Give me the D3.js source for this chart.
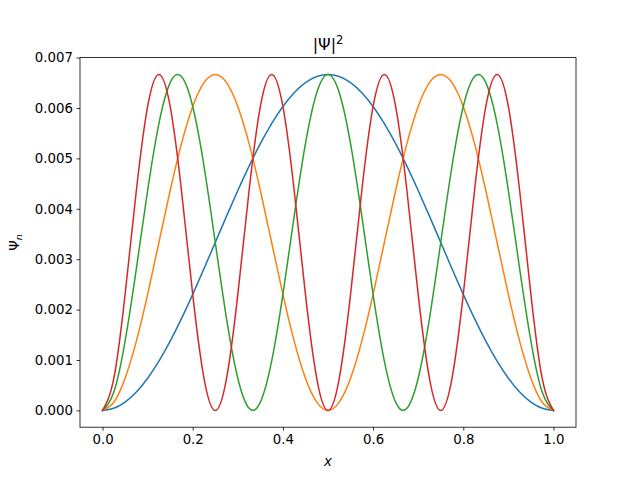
<!DOCTYPE html>
<html>
<head>
<meta charset="utf-8">
<script src="https://cdn.jsdelivr.net/npm/d3@7"></script>
<style>
  body { margin: 0; background: #fff; }
  svg { font-family: "DejaVu Sans", sans-serif; }
</style>
</head>
<body>
<div class="drawingArea"></div>
<script>
// x samples (step 0.025), values in units of 1e-3
var xs = d3.range(0, 41).map(function(i) { return i / 40; });

var psi1 = [0, 0.041, 0.163, 0.363, 0.637, 0.976, 1.374, 1.820, 2.303, 2.812, 3.333, 3.855, 4.363, 4.847, 5.293, 5.691, 6.030, 6.304, 6.504, 6.626, 6.667,
            6.626, 6.504, 6.304, 6.030, 5.691, 5.293, 4.847, 4.363, 3.855, 3.333, 2.812, 2.303, 1.820, 1.374, 0.976, 0.637, 0.363, 0.163, 0.041, 0];
var psi2 = [0, 0.163, 0.637, 1.374, 2.303, 3.333, 4.363, 5.293, 6.030, 6.504, 6.667, 6.504, 6.030, 5.293, 4.363, 3.333, 2.303, 1.374, 0.637, 0.163, 0,
            0.163, 0.637, 1.374, 2.303, 3.333, 4.363, 5.293, 6.030, 6.504, 6.667, 6.504, 6.030, 5.293, 4.363, 3.333, 2.303, 1.374, 0.637, 0.163, 0];
var psi3 = [0, 0.363, 1.374, 2.812, 4.363, 5.691, 6.504, 6.626, 6.030, 4.847, 3.333, 1.820, 0.637, 0.041, 0.163, 0.976, 2.303, 3.855, 5.293, 6.304, 6.667,
            6.304, 5.293, 3.855, 2.303, 0.976, 0.163, 0.041, 0.637, 1.820, 3.333, 4.847, 6.030, 6.626, 6.504, 5.691, 4.363, 2.812, 1.374, 0.363, 0];
var psi4 = [0, 0.637, 2.303, 4.363, 6.030, 6.667, 6.030, 4.363, 2.303, 0.637, 0,
            0.637, 2.303, 4.363, 6.030, 6.667, 6.030, 4.363, 2.303, 0.637, 0,
            0.637, 2.303, 4.363, 6.030, 6.667, 6.030, 4.363, 2.303, 0.637, 0,
            0.637, 2.303, 4.363, 6.030, 6.667, 6.030, 4.363, 2.303, 0.637, 0];

var series = [psi1, psi2, psi3, psi4];
var colors = ["#1f77b4", "#ff7f0e", "#2ca02c", "#d62728"];

var xTicks = [0, 0.2, 0.4, 0.6, 0.8, 1.0];
var xTickLabels = ["0.0", "0.2", "0.4", "0.6", "0.8", "1.0"];
var yTicks = [0, 1, 2, 3, 4, 5, 6, 7];
var yTickLabels = ["0.000", "0.001", "0.002", "0.003", "0.004", "0.005", "0.006", "0.007"];

//size
var width = 640;
var height = 480;
var plotLeft = 80, plotRight = 576, plotTop = 57.6, plotBottom = 427.2;

var svg = d3.select(".drawingArea").append("svg")
    .attr("width", width)
    .attr("height", height);

var x = d3.scaleLinear().domain([-0.05, 1.05]).range([plotLeft, plotRight]);
var y = d3.scaleLinear().domain([-0.3333, 7.0]).range([plotBottom, plotTop]);

var line = d3.line()
    .x(function(d, i) { return x(xs[i]); })
    .y(function(d) { return y(d); })
    .curve(d3.curveNatural);

var plot = svg.append("g");

series.forEach(function(s, i) {
    plot.append("path")
        .datum(s)
        .attr("d", line)
        .attr("fill", "none")
        .attr("stroke", colors[i])
        .attr("stroke-width", 1.5)
        .attr("stroke-linejoin", "round")
        .attr("stroke-linecap", "square");
});

// axes
var xAxis = d3.axisBottom(x)
    .tickValues(xTicks)
    .tickFormat(function(d, i) { return xTickLabels[i]; })
    .tickSizeInner(3.5)
    .tickSizeOuter(0)
    .tickPadding(3.5);

var yAxis = d3.axisLeft(y)
    .tickValues(yTicks)
    .tickFormat(function(d, i) { return yTickLabels[i]; })
    .tickSizeInner(3.5)
    .tickSizeOuter(0)
    .tickPadding(3.5);

var gx = svg.append("g")
    .attr("transform", "translate(0," + plotBottom + ")")
    .call(xAxis);
var gy = svg.append("g")
    .attr("transform", "translate(" + plotLeft + ",0)")
    .call(yAxis);

[gx, gy].forEach(function(g) {
    g.select(".domain").remove();
    g.selectAll(".tick line").attr("stroke", "#000").attr("stroke-width", 0.8);
    g.selectAll(".tick text")
        .attr("fill", "#000")
        .style("font-size", "13.33px")
        .style("font-family", "DejaVu Sans");
});

// frame
svg.append("rect")
    .attr("x", plotLeft)
    .attr("y", plotTop)
    .attr("width", plotRight - plotLeft)
    .attr("height", plotBottom - plotTop)
    .attr("fill", "none")
    .attr("stroke", "#000")
    .attr("stroke-width", 0.8);

// title
var title = svg.append("text")
    .attr("x", (plotLeft + plotRight) / 2)
    .attr("y", plotTop - 8)
    .attr("text-anchor", "middle")
    .style("font-size", "16px");
title.append("tspan").text("|\u03A8|");
title.append("tspan")
    .attr("dy", -6)
    .style("font-size", "11.5px")
    .text("2");

// x label
svg.append("text")
    .attr("x", (plotLeft + plotRight) / 2)
    .attr("y", 466)
    .attr("text-anchor", "middle")
    .style("font-size", "13.33px")
    .style("font-style", "italic")
    .text("x");

// y label
var ylab = svg.append("text")
    .attr("transform", "translate(19," + ((plotTop + plotBottom) / 2) + ") rotate(-90)")
    .attr("text-anchor", "middle")
    .style("font-size", "13.33px");
ylab.append("tspan").text("\u03A8");
ylab.append("tspan")
    .attr("dy", 3)
    .style("font-size", "9.5px")
    .style("font-style", "italic")
    .text("n");
</script>
</body>
</html>
